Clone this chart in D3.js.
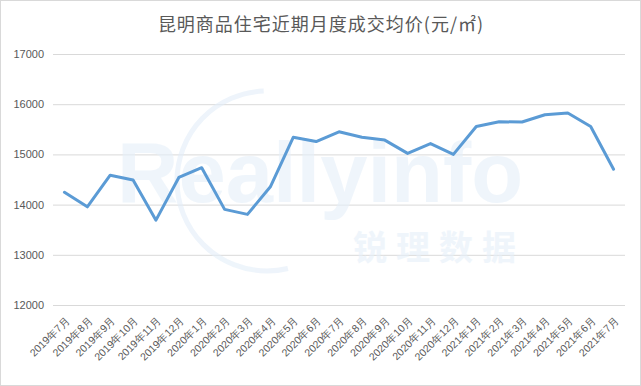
<!DOCTYPE html>
<html>
<head>
<meta charset="utf-8">
<script src="https://cdn.jsdelivr.net/npm/d3@7"></script>
<style>
  body { margin: 0; background: #fff; }
  svg { display: block; font-family: "Noto Sans CJK SC", "Liberation Sans", sans-serif; }
</style>
</head>
<body>
<div id="chart"></div>
<script>
const months = [
  '2019年7月', '2019年8月', '2019年9月', '2019年10月', '2019年11月', '2019年12月',
  '2020年1月', '2020年2月', '2020年3月', '2020年4月', '2020年5月', '2020年6月',
  '2020年7月', '2020年8月', '2020年9月', '2020年10月', '2020年11月', '2020年12月',
  '2021年1月', '2021年2月', '2021年3月', '2021年4月', '2021年5月', '2021年6月', '2021年7月'
];
const prices = [
  14245, 13955, 14585, 14490, 13690, 14540,
  14735, 13905, 13805, 14355, 15340, 15255,
  15450, 15340, 15285, 15020, 15215, 15000,
  15555, 15650, 15645, 15790, 15825, 15555, 14705
];
const yTicks = [12000, 13000, 14000, 15000, 16000, 17000];

const W = 641, H = 386;
const margin = { top: 54, right: 16, bottom: 81, left: 53 };
const width = W - margin.left - margin.right;
const height = H - margin.top - margin.bottom;

const svg = d3.select('#chart').append('svg')
  .attr('width', W)
  .attr('height', H);

// outer frame
svg.append('rect')
  .attr('x', 0.5).attr('y', 0.5)
  .attr('width', W - 1).attr('height', H - 1)
  .attr('fill', '#fff')
  .attr('stroke', '#d9d9d9');

svg.append('text')
  .attr('x', 321)
  .attr('y', 31)
  .attr('text-anchor', 'middle')
  .style('font-size', '18px')
  .style('letter-spacing', '1px')
  .style('fill', '#595959')
  .text('昆明商品住宅近期月度成交均价(元/㎡)');

const chartArea = svg.append('g')
  .attr('transform', `translate(${margin.left},${margin.top})`);

const x = d3.scaleBand().domain(months).range([0, width]);
const y = d3.scaleLinear().domain([12000, 17000]).range([height, 0]);

// gridlines
chartArea.append('g')
  .call(d3.axisLeft(y).tickValues(yTicks).tickSize(-width).tickFormat(''))
  .call(g => g.select('.domain').remove())
  .call(g => g.selectAll('line').attr('stroke', '#d9d9d9').attr('stroke-width', 1));

// watermark
const wm = chartArea.append('g').attr('opacity', 0.6);
wm.append('circle')
  .attr('cx', 214).attr('cy', 127).attr('r', 90)
  .attr('fill', 'none')
  .attr('stroke', '#e3eef9')
  .attr('stroke-width', 5)
  .attr('stroke-dasharray', '300 300')
  .attr('stroke-dashoffset', -120);
wm.append('text')
  .attr('x', 64).attr('y', 148)
  .style('font-family', '"Liberation Sans", sans-serif')
  .style('font-weight', 'bold')
  .style('font-size', '85px')
  .style('fill', '#e6f0fa')
  .text('Reallyinfo');
wm.append('text')
  .attr('x', 300).attr('y', 206)
  .style('font-size', '34px')
  .style('letter-spacing', '9px')
  .style('font-weight', 'bold')
  .style('fill', '#e6f0fa')
  .text('锐理数据');

// y axis labels
chartArea.append('g')
  .call(d3.axisLeft(y).tickValues(yTicks).tickSize(0).tickPadding(9).tickFormat(d3.format('d')))
  .call(g => g.select('.domain').remove())
  .call(g => g.selectAll('text')
    .style('font-family', '"Liberation Sans", sans-serif')
    .style('font-size', '11px')
    .style('fill', '#595959'));

// x axis labels
chartArea.append('g')
  .attr('transform', `translate(0,${height})`)
  .call(d3.axisBottom(x).tickSize(0).tickPadding(0))
  .call(g => g.select('.domain').remove())
  .call(g => g.selectAll('text')
    .attr('text-anchor', 'end')
    .attr('dy', 0)
    .attr('transform', 'translate(6,16) rotate(-45)')
    .style('font-size', '10.5px')
    .style('fill', '#595959'));

const line = d3.line()
  .x((d, i) => x(months[i]) + x.bandwidth() / 2)
  .y(d => y(d));

chartArea.append('path')
  .datum(prices)
  .attr('fill', 'none')
  .attr('stroke', '#5b9bd5')
  .attr('stroke-width', 3)
  .attr('stroke-linejoin', 'round')
  .attr('stroke-linecap', 'round')
  .attr('d', line);
</script>
</body>
</html>
